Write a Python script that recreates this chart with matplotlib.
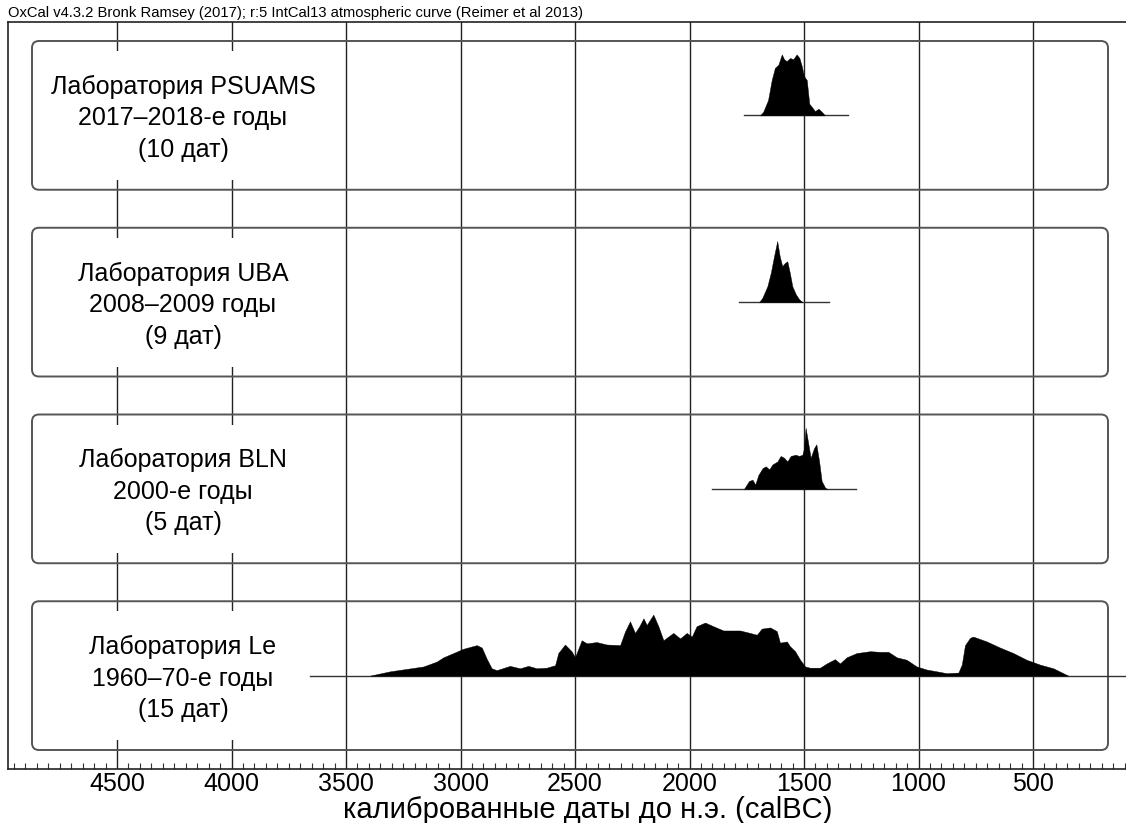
import matplotlib
matplotlib.use('Agg')
import matplotlib.pyplot as plt
from matplotlib.patches import FancyBboxPatch, Rectangle
from matplotlib.ticker import MultipleLocator, FixedLocator

# ---------------- data ----------------
title = "OxCal v4.3.2 Bronk Ramsey (2017); r:5 IntCal13 atmospheric curve (Reimer et al 2013)"
xlabel = "калиброванные даты до н.э. (calBC)"
xticks = [4500, 4000, 3500, 3000, 2500, 2000, 1500, 1000, 500]
xtick_labels = ["4500", "4000", "3500", "3000", "2500", "2000", "1500", "1000", "500"]

labels = [
    "Лаборатория PSUAMS\n2017–2018-е годы\n(10 дат)",
    "Лаборатория UBA\n2008–2009 годы\n(9 дат)",
    "Лаборатория BLN\n2000-е годы\n(5 дат)",
    "Лаборатория Le\n1960–70-е годы\n(15 дат)",
]

# calibrated year BC and relative probability (0..1)
psuams_years = [1692, 1678, 1657, 1641, 1627, 1612, 1597, 1587, 1576, 1561, 1547, 1532,
                1520, 1510, 1500, 1488, 1477, 1466, 1452, 1437, 1423, 1408]
psuams_prob = [0.0, 0.06, 0.25, 0.58, 0.78, 0.83, 1.0, 0.92, 0.89, 0.94, 0.92, 1.0,
               0.94, 0.81, 0.64, 0.58, 0.19, 0.14, 0.07, 0.11, 0.06, 0.0]
psuams_range = [1760, 1310]

uba_years = [1696, 1682, 1660, 1645, 1631, 1617, 1606, 1595, 1584, 1573, 1562, 1551,
             1536, 1522, 1507]
uba_prob = [0.0, 0.07, 0.26, 0.48, 0.75, 1.0, 0.75, 0.59, 0.64, 0.67, 0.48, 0.26,
            0.13, 0.05, 0.0]
uba_range = [1784, 1391]

bln_years = [1762, 1740, 1725, 1713, 1699, 1681, 1667, 1652, 1638, 1616, 1602, 1587,
             1573, 1558, 1536, 1522, 1507, 1500, 1493, 1483, 1471, 1456, 1446, 1434,
             1423, 1408, 1398]
bln_prob = [0.0, 0.13, 0.15, 0.07, 0.23, 0.34, 0.37, 0.32, 0.40, 0.45, 0.54, 0.51,
            0.45, 0.54, 0.56, 0.54, 0.56, 0.67, 1.0, 0.78, 0.51, 0.67, 0.73, 0.45,
            0.13, 0.02, 0.0]
bln_range = [1902, 1273]

le_years = [3395, 3308, 3235, 3162, 3104, 3075, 3031, 2988, 2929, 2907, 2886, 2864,
            2842, 2784, 2740, 2704, 2667, 2624, 2587, 2573, 2544, 2515, 2500, 2471,
            2449, 2405, 2362, 2303, 2282, 2260, 2238, 2219, 2201, 2187, 2158, 2136,
            2114, 2071, 2041, 2012, 1990, 1969, 1932, 1896, 1852, 1779, 1736, 1706,
            1685, 1648, 1619, 1605, 1575, 1561, 1539, 1517, 1495, 1474, 1430, 1401,
            1365, 1343, 1314, 1270, 1212, 1168, 1132, 1095, 1052, 1008, 965, 920,
            877, 826, 811, 797, 775, 761, 702, 644, 586, 528, 469, 411, 368, 346]
le_prob = [0.0, 0.07, 0.11, 0.15, 0.23, 0.30, 0.37, 0.44, 0.50, 0.46, 0.28, 0.12,
           0.09, 0.16, 0.12, 0.16, 0.12, 0.13, 0.17, 0.37, 0.51, 0.40, 0.30, 0.58,
           0.53, 0.55, 0.51, 0.50, 0.72, 0.89, 0.70, 0.81, 0.94, 0.83, 1.0, 0.81,
           0.58, 0.70, 0.61, 0.70, 0.64, 0.81, 0.87, 0.81, 0.74, 0.74, 0.70, 0.67,
           0.77, 0.79, 0.73, 0.54, 0.56, 0.48, 0.40, 0.26, 0.15, 0.13, 0.13, 0.20,
           0.27, 0.20, 0.30, 0.37, 0.40, 0.39, 0.39, 0.30, 0.26, 0.15, 0.10, 0.07,
           0.04, 0.05, 0.18, 0.50, 0.62, 0.64, 0.56, 0.46, 0.37, 0.26, 0.18, 0.12,
           0.04, 0.0]
le_range = [3657, -20]

series = [
    (psuams_years, psuams_prob, psuams_range),
    (uba_years, uba_prob, uba_range),
    (bln_years, bln_prob, bln_range),
    (le_years, le_prob, le_range),
]

# ---------------- layout ----------------
W, H = 1126, 823
plt.rcParams['font.family'] = ['Liberation Sans', 'DejaVu Sans']
fig = plt.figure(figsize=(W / 100, H / 100), dpi=100)

L, R, T, B = 8, 1168, 22, 769
ax = fig.add_axes([L / W, 1 - B / H, (R - L) / W, (B - T) / H])
px_per_year = 0.229
x_left = 4500 + (117 - L) / px_per_year
x_right = 4500 - (R - 117) / px_per_year
ax.set_xlim(x_left, x_right)
ax.set_ylim(4, 0)
px_per_row = (B - T) / 4.0

def px2yr(px):
    return 4500 - (px - 117) / px_per_year

inset = 19 / px_per_row
box_x0, box_x1 = px2yr(1108), px2yr(32)
radius_px = 7
amp = 61 / px_per_row

for i, (yrs, prob, rng) in enumerate(series):
    y0 = i + inset
    hgt = 1 - 2 * inset
    box = FancyBboxPatch((box_x0, y0), box_x1 - box_x0, hgt,
                         boxstyle=f"round,pad=0,rounding_size={radius_px / px_per_year}",
                         mutation_aspect=px_per_year / px_per_row,
                         fill=False, edgecolor='#555555', linewidth=1.4, zorder=3)
    ax.add_patch(box)
    # white label panel hiding grid lines
    cover = Rectangle((px2yr(305), y0 + 10 / px_per_row), px2yr(34) - px2yr(305),
                      hgt - 20 / px_per_row, facecolor='white', edgecolor='none', zorder=2)
    ax.add_patch(cover)
    ax.text(px2yr(183), i + 0.5 + 3 / px_per_row, labels[i], ha='center', va='center',
            multialignment='center', fontsize=18, linespacing=1.4, zorder=5)
    base = i + 0.5
    ax.plot(rng, [base, base], color='#333333', linewidth=1.0, zorder=4)
    ax.fill_between(yrs, base, [base - p * amp for p in prob], color='black',
                    linewidth=0.3, edgecolor='black', zorder=4)

# axes styling
ax.xaxis.set_major_locator(FixedLocator(xticks))
ax.set_xticklabels(xtick_labels, fontsize=18)
ax.xaxis.set_minor_locator(MultipleLocator(50))
ax.tick_params(axis='x', which='major', length=0, pad=2.5)
ax.tick_params(axis='x', which='minor', direction='in', length=4.5, width=0.8, color='#333333')
ax.set_yticks([])
ax.set_axisbelow(True)
ax.grid(axis='x', which='major', color='#222222', linewidth=1.0)
for s in ['left', 'top', 'bottom']:
    ax.spines[s].set_linewidth(1.2)
    ax.spines[s].set_color('#222222')
ax.spines['right'].set_visible(False)

fig.text(L / W, 1 - 17 / H, title, fontsize=10.6, ha='left', va='baseline')
fig.text(588 / W, 1 - 818 / H, xlabel, fontsize=21, ha='center', va='baseline')

fig.savefig('out.png', dpi=100)
